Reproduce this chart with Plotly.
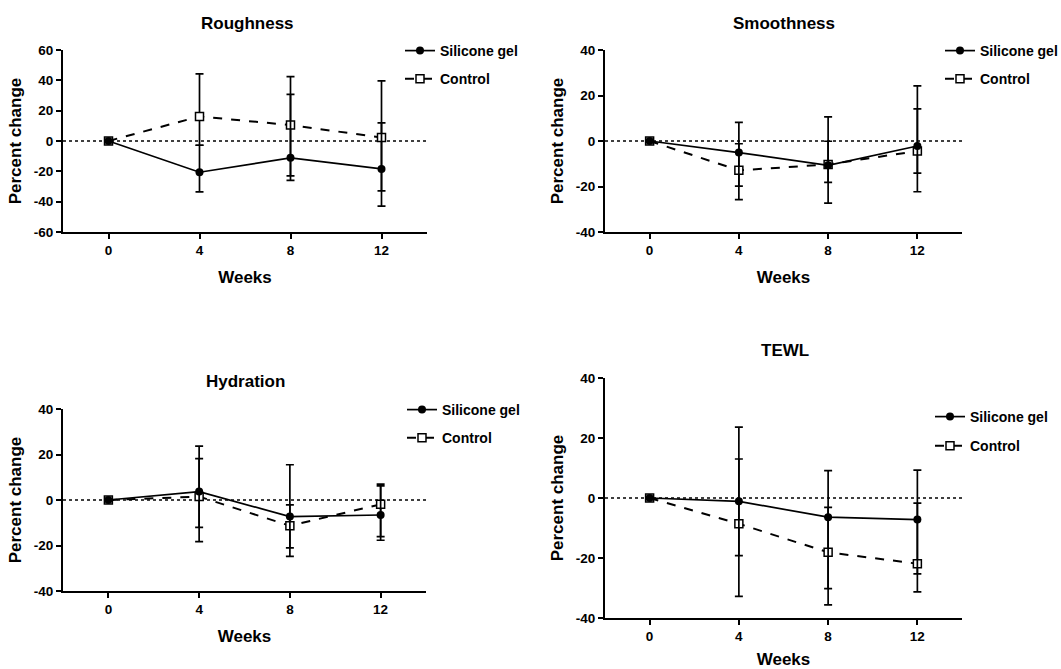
import plotly.graph_objects as go

# ---------------- data ----------------
weeks = [0, 4, 8, 12]
x_ticks = [0, 4, 8, 12]
series_names = ["Silicone gel", "Control"]
panel_titles = ["Roughness", "Smoothness", "Hydration", "TEWL"]
y_ticks_60 = [-60, -40, -20, 0, 20, 40, 60]
y_ticks_40 = [-40, -20, 0, 20, 40]

rough_gel = [0, -20.6, -11.1, -18.4]
rough_gel_up = [0, 17.8, 41.9, 30.4]
rough_gel_dn = [0, 13.0, 11.9, 24.6]
rough_ctl = [0, 16.2, 10.5, 2.3]
rough_ctl_up = [0, 28.0, 31.9, 37.4]
rough_ctl_dn = [0, 19.0, 36.4, 35.2]

smooth_gel = [0, -5.1, -10.7, -2.2]
smooth_gel_up = [0, 13.3, 21.3, 26.4]
smooth_gel_dn = [0, 14.7, 16.6, 20.1]
smooth_ctl = [0, -12.9, -10.3, -4.4]
smooth_ctl_up = [0, 11.7, 10.2, 18.5]
smooth_ctl_dn = [0, 12.9, 7.9, 9.7]

hyd_gel = [0, 3.7, -7.3, -6.6]
hyd_gel_up = [0, 20.0, 22.8, 13.6]
hyd_gel_dn = [0, 22.0, 17.5, 11.1]
hyd_ctl = [0, 1.5, -11.3, -1.9]
hyd_ctl_up = [0, 16.7, 9.2, 8.1]
hyd_ctl_dn = [0, 13.5, 9.7, 14.2]

tewl_gel = [0, -1.1, -6.4, -7.2]
tewl_gel_up = [0, 24.7, 15.5, 16.5]
tewl_gel_dn = [0, 18.1, 23.8, 18.1]
tewl_ctl = [0, -8.6, -18.1, -21.9]
tewl_ctl_up = [0, 21.6, 15.0, 20.2]
tewl_ctl_dn = [0, 24.2, 17.5, 9.4]

y_ranges = [[-60, 60], [-40, 40], [-40, 40], [-40, 40]]
y_tickvals = [y_ticks_60, y_ticks_40, y_ticks_40, y_ticks_40]

# ---------------- layout geometry (pixels) ----------------
W, H = 1061, 669
FONT = "Arial, 'Liberation Sans', sans-serif"
# (x0, x1, ytop, ybottom) of each plot area
boxes = [(63, 427, 50, 232), (605, 962, 50, 232), (63, 426, 409, 591), (605, 962, 378, 618)]
title_pos = [(247, 23), (784, 23), (245, 381), (785, 350)]
legend_pos = [(400, 35), (940, 35), (402, 394), (930, 401)]

panels = [
    (rough_gel, rough_gel_up, rough_gel_dn, rough_ctl, rough_ctl_up, rough_ctl_dn),
    (smooth_gel, smooth_gel_up, smooth_gel_dn, smooth_ctl, smooth_ctl_up, smooth_ctl_dn),
    (hyd_gel, hyd_gel_up, hyd_gel_dn, hyd_ctl, hyd_ctl_up, hyd_ctl_dn),
    (tewl_gel, tewl_gel_up, tewl_gel_dn, tewl_ctl, tewl_ctl_up, tewl_ctl_dn),
]

fig = go.Figure()
layout = dict(
    width=W, height=H, margin=dict(l=0, r=0, t=0, b=0, autoexpand=False),
    paper_bgcolor="white", plot_bgcolor="white",
    font=dict(family=FONT, color="black"),
    showlegend=True, annotations=[], shapes=[],
)

for i, (g, gu, gd, c, cu, cd) in enumerate(panels):
    k = "" if i == 0 else str(i + 1)
    xa, ya = "x" + k, "y" + k
    leg = "legend" + k
    x0, x1, yt, yb = boxes[i]
    # control first (drawn underneath), silicone gel on top
    fig.add_trace(go.Scatter(
        x=weeks, y=c, name=series_names[1], xaxis=xa, yaxis=ya, legend=leg,
        legendgroup="c" + k, legendrank=2, mode="lines+markers",
        line=dict(color="black", width=2, dash="dash"),
        marker=dict(symbol="square", size=8, color="white", line=dict(color="black", width=1.5)),
        error_y=dict(type="data", symmetric=False, array=cu, arrayminus=cd,
                     color="black", thickness=1.7, width=4),
    ))
    fig.add_trace(go.Scatter(
        x=weeks, y=g, name=series_names[0], xaxis=xa, yaxis=ya, legend=leg,
        legendgroup="g" + k, legendrank=1, mode="lines+markers",
        line=dict(color="black", width=1.7),
        marker=dict(symbol="circle", size=8, color="black"),
        error_y=dict(type="data", symmetric=False, array=gu, arrayminus=gd,
                     color="black", thickness=1.7, width=4),
    ))
    axis_common = dict(
        showline=True, linecolor="black", linewidth=2, ticks="outside",
        ticklen=5, tickwidth=2, tickcolor="black", showgrid=False, zeroline=False,
        automargin=False,
        tickfont=dict(family=FONT, size=13.5, color="black", weight="bold"),
        title_font=dict(family=FONT, size=17, color="black", weight="bold"),
    )
    layout["xaxis" + k] = dict(
        axis_common, domain=[x0 / W, x1 / W], anchor=ya, range=[-2, 14],
        tickvals=x_ticks, ticktext=[str(t) for t in x_ticks],
        title=dict(text="Weeks", standoff=14),
    )
    layout["yaxis" + k] = dict(
        axis_common, domain=[1 - yb / H, 1 - yt / H], anchor=xa,
        range=y_ranges[i], tickvals=y_tickvals[i],
        ticktext=[str(t) for t in y_tickvals[i]],
        title=dict(text="Percent change", standoff=8),
    )
    layout[leg] = dict(
        x=legend_pos[i][0] / W, y=1 - legend_pos[i][1] / H, xanchor="left", yanchor="top",
        bgcolor="rgba(0,0,0,0)", itemwidth=30, tracegroupgap=8 if i == 3 else 7,
        font=dict(family=FONT, size=14, color="black", weight="bold"),
    )
    layout["shapes"].append(dict(
        type="line", xref=xa, yref=ya, x0=-2, x1=14, y0=0, y1=0,
        line=dict(color="black", width=1.6, dash="dot"), layer="below",
    ))
    layout["annotations"].append(dict(
        text=panel_titles[i], xref="paper", yref="paper",
        x=title_pos[i][0] / W, y=1 - title_pos[i][1] / H,
        xanchor="center", yanchor="middle", showarrow=False,
        font=dict(family=FONT, size=17, color="black", weight="bold"),
    ))

fig.update_layout(**layout)
fig.write_html(
    "out.html",
    config={"displayModeBar": False},
    post_script="document.body.style.margin='0';document.body.style.overflow='hidden';",
)
